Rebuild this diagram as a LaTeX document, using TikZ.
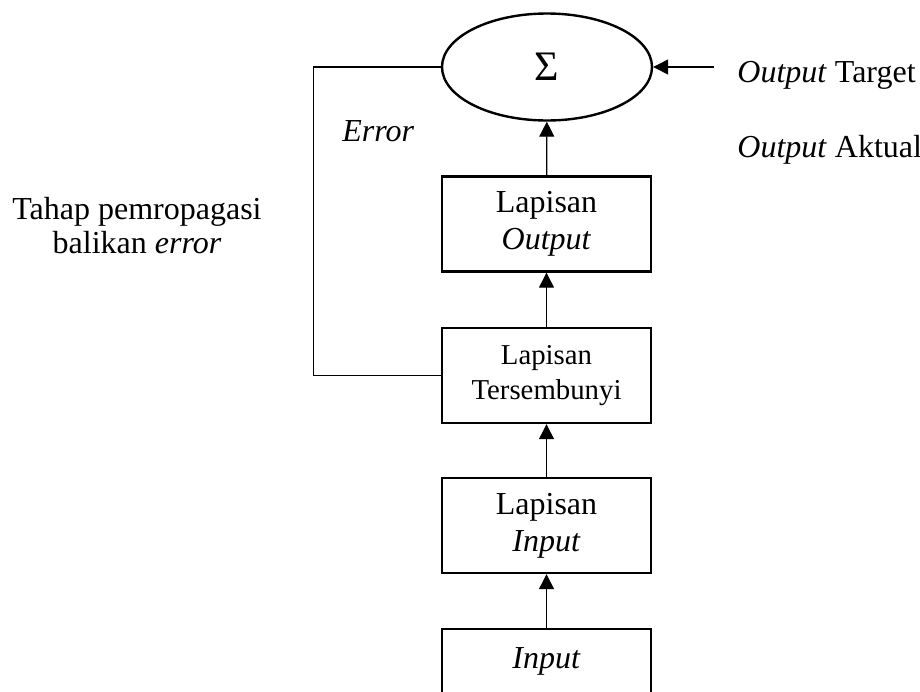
\documentclass[tikz,border=0pt]{standalone}
\usepackage{fontspec}
\setmainfont{Liberation Serif}
\usetikzlibrary{positioning, arrows.meta, shapes.geometric}

\begin{document}
\begin{tikzpicture}[x=0.5pt, y=-0.5pt,
        layerbox/.style={draw, line width=1.2pt, minimum width=104.5pt,
            minimum height=47.5pt, align=center, inner sep=0pt,
            font=\fontsize{16}{18.5}\selectfont},
        sidelabel/.style={font=\fontsize{16}{17}\selectfont, inner sep=0pt},
        arr/.style={-{Triangle[length=7.5pt, width=7.5pt]}, line width=0.65pt},
        fb/.style={line width=0.55pt}
    ]
    \clip (0,0) rectangle (920,691);

    % summing node and the layers below it
    \node[ellipse, draw, line width=1.2pt, minimum width=105pt,
          minimum height=53.5pt, inner sep=0pt] (sum) at (547, 67)
        {\fontsize{21}{21}\selectfont Σ};

    \node[layerbox] (outlayer) at (546.5, 224) {Lapisan\\\textit{Output}};
    \node[layerbox, font=\fontsize{14.4}{17.5}\selectfont] (hidlayer)
        at (546.5, 375.5) {Lapisan\\Tersembunyi};
    \node[layerbox] (inlayer) at (546.5, 525.5) {Lapisan\\\textit{Input}};
    \node[layerbox, minimum height=32pt] (inp) at (546.5, 661) {\textit{Input}};

    \draw[arr] (inp) -- (inlayer);
    \draw[arr] (inlayer) -- (hidlayer);
    \draw[arr] (hidlayer) -- (outlayer);
    \draw[arr] (outlayer) -- (sum);

    % target comes in from the right
    \coordinate (tgt) at (714, 67);
    \draw[arr] (tgt) -- (sum.east);
    \node[sidelabel, anchor=base west] (tgtlabel) at (737, 82) {\textit{Output} Target};
    \node[sidelabel, anchor=base west] (actlabel) at (737, 157) {\textit{Output} Aktual};

    % error fed back to the hidden layer
    \draw[fb] (sum.west) -- ++(-127, 0) |- (hidlayer.west);
    \node[sidelabel, anchor=base west] (errlabel) at (342, 141) {\textit{Error}};
    \node[sidelabel, align=center] (backprop) at (137, 226)
        {Tahap pemropagasi\\balikan \textit{error}};

\end{tikzpicture}
\end{document}
